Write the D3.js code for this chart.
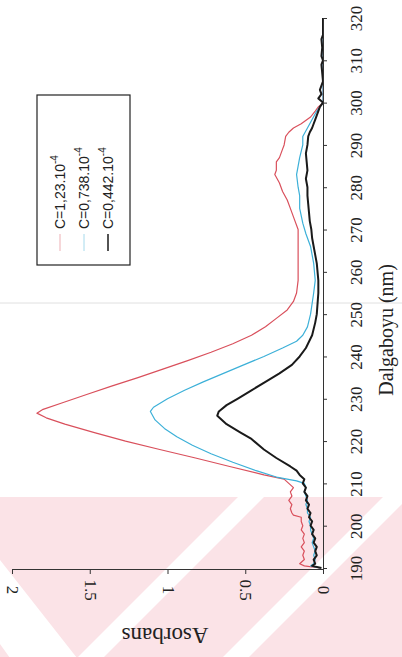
<!DOCTYPE html>
<html><head><meta charset="utf-8">
<script src="https://cdn.jsdelivr.net/npm/d3@7"></script>
<style>body{margin:0;background:#fff}svg{display:block}
.serif{font-family:"Liberation Serif","DejaVu Serif","Noto Serif",serif}
.sans{font-family:"Liberation Sans",Arial,Helvetica,sans-serif}</style>
</head><body>
<svg id="chart" width="402" height="657"></svg>
<script>
// UV absorption spectra at three concentrations (wavelength nm, absorbance)
const seriesNames = ["C=1,23.10", "C=0,738.10", "C=0,442.10"];
const seriesExp = "-4";
const seriesColors = ["#d9505c", "#3cb0d8", "#1a1a1a"];
const seriesWidths = [1.2, 1.2, 2];

const wavelengthTicks = [190,200,210,220,230,240,250,260,270,280,290,300,310,320];
const absorbanceTicks = [0, 0.5, 1, 1.5, 2];
const absorbanceTickLabels = ["0", "0.5", "1", "1.5", "2"];

const spectrumHigh = [
  [190,0.02],[190.5,0.12],[191,0.15],[192,0.12],[193,0.13],[194,0.12],[195,0.14],[196,0.12],
  [197,0.13],[198,0.12],[199,0.14],[200,0.13],[201,0.14],[202,0.14],[202.5,0.19],[203,0.2],
  [204,0.21],[205,0.2],[206,0.22],[207,0.2],[208,0.21],[209,0.19],[210,0.22],[211,0.25],
  [212,0.38],[214,0.6],[216,0.82],[218,1.05],[220,1.27],[222,1.47],[224,1.66],[225.5,1.78],
  [226.6,1.84],[227.5,1.8],[229,1.68],[231,1.52],[233,1.36],[235,1.19],[237,1.03],[239,0.87],
  [241,0.72],[243,0.58],[245,0.46],[247,0.37],[249,0.3],[251,0.23],[253,0.19],[255,0.17],
  [258,0.16],[260,0.16],[263,0.16],[266,0.16],[270,0.16],[273,0.19],[275,0.21],[277,0.23],
  [279,0.26],[281,0.28],[283,0.31],[284,0.3],[286,0.3],[287,0.28],[289,0.26],[290,0.25],
  [292,0.24],[293,0.22],[294,0.19],[295,0.14],[296.6,0.08],[298,0.05],[299,0.03],[300,0],
  [310,0],[320,0]
];
const spectrumMid = [
  [190,0.02],[190.5,0.08],[191,0.06],[192,0.05],[193,0.06],[194,0.05],[195,0.06],[196,0.07],
  [197,0.06],[198,0.07],[199,0.08],[200,0.08],[201,0.09],[202,0.08],[203,0.1],[204,0.1],
  [205,0.11],[206,0.1],[207,0.11],[208,0.12],[209,0.11],[210,0.12],[210.6,0.17],[211.5,0.3],
  [213,0.43],[215,0.58],[217,0.72],[219,0.84],[221,0.94],[223,1.02],[225,1.08],[227,1.11],
  [228,1.09],[230,1.0],[232,0.89],[234,0.77],[236,0.64],[238,0.51],[240,0.38],[242,0.26],
  [243.6,0.17],[245,0.13],[247,0.1],[250,0.08],[255,0.06],[258,0.05],[262,0.06],[266,0.08],
  [269,0.11],[271.5,0.13],[275,0.15],[278,0.15],[280,0.16],[283,0.17],[285,0.16],[287,0.15],
  [290,0.13],[292,0.13],[294,0.1],[296,0.07],[298,0.04],[299,0.02],[300,0],[320,0]
];
const spectrumLow = [
  [190,0.01],[190.5,0.07],[191,0.05],[192,0.06],[193,0.04],[194,0.05],[195,0.04],[196,0.06],
  [197,0.05],[198,0.07],[199,0.06],[200,0.08],[201,0.07],[202,0.09],[203,0.08],[204,0.1],
  [205,0.09],[206,0.11],[207,0.1],[208,0.12],[209,0.11],[210,0.13],[211,0.12],[212,0.15],
  [213,0.17],[214,0.21],[216,0.3],[218,0.38],[220.5,0.46],[222,0.53],[224,0.62],[226,0.68],
  [227,0.67],[228.5,0.62],[230,0.55],[232,0.46],[234,0.37],[236,0.28],[238,0.2],[240,0.15],
  [242,0.11],[245,0.07],[248,0.05],[250,0.04],[255,0.03],[258,0.03],[262,0.04],[266,0.06],
  [268,0.07],[270,0.075],[272,0.085],[274,0.09],[276,0.095],[278,0.1],[280,0.1],[282,0.11],
  [284,0.1],[286,0.105],[288,0.11],[290,0.1],[292,0.095],[293,0.085],[294,0.07],[295,0.06],
  [296,0.05],[297,0.04],[298,0.03],[299,0.02],[300,0],[301,0.03],[302,0.01],[303,0.02],
  [305,0],[309,0.01],[310,0],[311,0.01],[313,0.005],[315,0.01],[316,0],[320,0]
];
const spectra = [spectrumHigh, spectrumMid, spectrumLow];

const svg = d3.select("#chart");

// The plot is laid out sideways: wavelength runs up the right edge,
// absorbance grows towards the left along the bottom edge.
const wl = d3.scaleLinear().domain([190, 320]).range([568, 18]);
const ab = d3.scaleLinear().domain([0, 2]).range([323, 12]);

// pale pink watermark band with white diagonal stripes
const wm = svg.append("g");
wm.append("clipPath").attr("id", "wmclip").append("rect")
  .attr("x", 0).attr("y", 497).attr("width", 402).attr("height", 160);
const wmg = wm.append("g").attr("clip-path", "url(#wmclip)");
wmg.append("rect").attr("x", 0).attr("y", 497).attr("width", 402).attr("height", 160).attr("fill", "#fbe3e7");
[[735, 26], [880, 26]].forEach(([c, w]) => {
  wmg.append("path").attr("fill", "#fff")
    .attr("d", `M${c - 700},700 L${c - 400},400 L${c - 400 + w},400 L${c - 700 + w},700 Z`);
});
wmg.append("path").attr("fill", "#fff").attr("d", "M-60,560 L0,560 L110,700 L40,700 Z");

// faint scan line across the page
svg.append("line").attr("x1", 0).attr("x2", 402).attr("y1", 303).attr("y2", 303)
  .attr("stroke", "#d8d8d8").attr("stroke-width", 0.8);

// spectra
const line = d3.line().x(d => ab(d[1])).y(d => wl(d[0]));
spectra.forEach((s, i) => {
  svg.append("path").datum(s).attr("d", line).attr("fill", "none")
    .attr("stroke", seriesColors[i]).attr("stroke-width", seriesWidths[i])
    .attr("stroke-linejoin", "round");
});

// wavelength axis (right edge)
const wAxis = svg.append("g").attr("transform", "translate(323,0)")
  .call(d3.axisRight(wl).tickValues(wavelengthTicks).tickSize(4).tickSizeOuter(0).tickFormat(d3.format("d")));
wAxis.selectAll("text").attr("x", 0).attr("dy", null)
  .attr("transform", "translate(33,0) rotate(-90)")
  .attr("text-anchor", "middle").attr("dominant-baseline", "central");

// absorbance axis (bottom edge)
const aAxis = svg.append("g").attr("transform", "translate(0,569)")
  .call(d3.axisBottom(ab).tickValues(absorbanceTicks).tickSize(5).tickSizeOuter(0)
    .tickFormat((d, i) => absorbanceTickLabels[i]));
aAxis.selectAll("text").attr("y", 0).attr("dy", null)
  .attr("transform", "translate(0,21) rotate(90)")
  .attr("text-anchor", "middle").attr("dominant-baseline", "central");

[wAxis, aAxis].forEach(g => {
  g.attr("font-family", null).attr("font-size", null);
  g.selectAll("path,line").attr("stroke", "#333").attr("stroke-width", 1);
  g.selectAll("text").attr("class", "serif").attr("fill", "#222").attr("font-size", 17);
});

// axis titles
svg.append("text").attr("class", "serif").attr("transform", "translate(386,330) rotate(-90)")
  .attr("text-anchor", "middle").attr("dominant-baseline", "central")
  .attr("font-size", 20).attr("fill", "#222")
  .text("Dalgaboyu (nm)");
svg.append("text").attr("class", "serif").attr("transform", "translate(165,635) rotate(180)")
  .attr("text-anchor", "middle").attr("dominant-baseline", "central")
  .attr("font-size", 23).attr("fill", "#222")
  .text("Asorbans");

// legend
const leg = svg.append("g");
leg.append("rect").attr("x", 37).attr("y", 95).attr("width", 93).attr("height", 170)
  .attr("fill", "#fff").attr("stroke", "#222").attr("stroke-width", 1.2);
seriesNames.forEach((name, i) => {
  const x = 60 + i * 24;
  leg.append("line").attr("x1", x).attr("x2", x).attr("y1", 251).attr("y2", 234)
    .attr("stroke", seriesColors[i]).attr("stroke-width", i === 2 ? 1.5 : 1)
    .attr("opacity", i === 2 ? 1 : 0.45);
  const t = leg.append("text").attr("class", "sans").attr("transform", `translate(${x},229) rotate(-90)`)
    .attr("dominant-baseline", "central").attr("font-size", 14).attr("fill", "#222");
  t.append("tspan").text(name);
  t.append("tspan").attr("dy", -6).attr("font-size", 10).text(seriesExp);
});
</script>
</body></html>
